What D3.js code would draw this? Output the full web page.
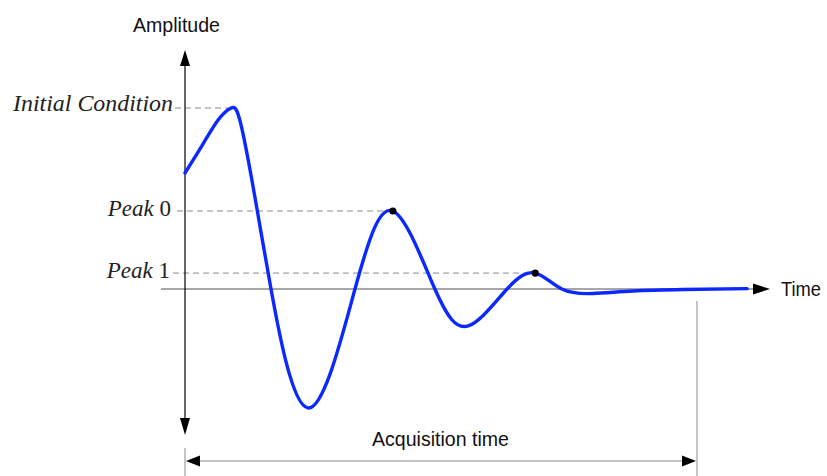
<!DOCTYPE html>
<html><head><meta charset="utf-8">
<script src="https://cdn.jsdelivr.net/npm/d3@7"></script>
<style>
html,body{margin:0;padding:0;background:#fff;}
svg{display:block;}
</style></head>
<body>
<svg id="c" width="827" height="476"></svg>
<script>
// ---- data (time as fraction of acquisition time, amplitude relative to initial condition) ----
const time = [0, 0.035, 0.065, 0.090, 0.110, 0.141, 0.168, 0.240, 0.332, 0.406, 0.488, 0.553, 0.629, 0.684, 0.736, 0.797, 0.875, 0.973, 1.098];
const amplitude = [0.641, 0.80, 0.935, 1.0, 0.90, 0.436, 0, -0.657, 0, 0.431, 0, -0.204, 0, 0.088, 0, -0.025, -0.011, -0.003, 0.002];
const peakTimes = [0.406, 0.684];
const peakValues = [0.431, 0.088];
const levelNames = ["Initial Condition", "Peak", "Peak"];
const levelSuffix = ["", " 0", " 1"];
const levelValues = [1.0, 0.431, 0.088];
const levelTimes = [0.090, 0.406, 0.684];
const axisLabels = ["Amplitude", "Time", "Acquisition time"];

const svg = d3.select("#c");
const x = d3.scaleLinear().domain([0, 1]).range([185, 697]);
const y = d3.scaleLinear().domain([0, 1]).range([289, 108]);
const x0 = x(0), y0 = y(0);

// level dashed lines
levelValues.forEach((v, i) => {
  svg.append("line")
    .attr("x1", i === 0 ? 175 : (i === 1 ? 177 : 173)).attr("x2", x(levelTimes[i]))
    .attr("y1", y(v)).attr("y2", y(v))
    .attr("stroke", "#8a8a8a").attr("stroke-width", 1).attr("stroke-dasharray", "6,4");
});

// level labels
const lbl = [[173, 111, 160], [171, 216, 64], [170, 278, 63]];
levelNames.forEach((n, i) => {
  const t = svg.append("text")
    .attr("x", lbl[i][0]).attr("y", lbl[i][1])
    .attr("text-anchor", "end")
    .attr("font-family", "Liberation Serif, Times New Roman, serif")
    .attr("font-size", 23).attr("fill", "#222");
  t.append("tspan").attr("font-style", "italic").text(n);
  if (levelSuffix[i]) t.append("tspan").text(levelSuffix[i]);
  if (i === 0) t.attr("textLength", lbl[i][2]).attr("lengthAdjust", "spacingAndGlyphs");
});

// time axis (gray) with black arrow
svg.append("line").attr("x1", 161).attr("x2", 756).attr("y1", y0).attr("y2", y0)
  .attr("stroke", "#8a8a8a").attr("stroke-width", 1.6);
svg.append("path").attr("d", `M770,${y0} L753,${y0-5.5} L753,${y0+5.5} Z`).attr("fill", "#000");

// amplitude axis (black) with arrows at both ends
svg.append("line").attr("x1", x0).attr("x2", x0).attr("y1", 62).attr("y2", 422)
  .attr("stroke", "#000").attr("stroke-width", 1.2);
svg.append("path").attr("d", `M${x0},50 L${x0-5},66 L${x0+5},66 Z`).attr("fill", "#000");
svg.append("path").attr("d", `M${x0},435 L${x0-5},418 L${x0+5},418 Z`).attr("fill", "#000");

// acquisition time markers
svg.append("line").attr("x1", x0).attr("x2", x0).attr("y1", 448).attr("y2", 476)
  .attr("stroke", "#8a8a8a").attr("stroke-width", 1);
svg.append("line").attr("x1", x(1)).attr("x2", x(1)).attr("y1", 301).attr("y2", 476)
  .attr("stroke", "#8a8a8a").attr("stroke-width", 1);
svg.append("line").attr("x1", x0 + 10).attr("x2", x(1) - 10).attr("y1", 461).attr("y2", 461)
  .attr("stroke", "#8a8a8a").attr("stroke-width", 1);
svg.append("path").attr("d", `M${x0+1},461 L${x0+15},455.5 L${x0+15},466.5 Z`).attr("fill", "#000");
svg.append("path").attr("d", `M${x(1)-1},461 L${x(1)-15},455.5 L${x(1)-15},466.5 Z`).attr("fill", "#000");

// curve
const pts = time.map((t, i) => [t, amplitude[i]]);
const line = d3.line().x(d => x(d[0])).y(d => y(d[1])).curve(d3.curveNatural);
svg.append("path").datum(pts).attr("d", line)
  .attr("fill", "none").attr("stroke", "#0a28ff").attr("stroke-width", 3.4)
  .attr("stroke-linecap", "round").attr("stroke-linejoin", "round");

// peak dots
peakTimes.forEach((t, i) => {
  svg.append("circle").attr("cx", x(t)).attr("cy", y(peakValues[i])).attr("r", 3.6).attr("fill", "#000");
});

// axis labels
const sans = "Liberation Sans, Arial, sans-serif";
svg.append("text").attr("x", 133).attr("y", 32).attr("font-family", sans).attr("font-size", 21)
  .attr("textLength", 87).attr("lengthAdjust", "spacingAndGlyphs").attr("fill", "#111").text(axisLabels[0]);
svg.append("text").attr("x", 781).attr("y", 296).attr("font-family", sans).attr("font-size", 21)
  .attr("textLength", 40).attr("lengthAdjust", "spacingAndGlyphs").attr("fill", "#111").text(axisLabels[1]);
svg.append("text").attr("x", 372).attr("y", 446).attr("font-family", sans).attr("font-size", 21)
  .attr("textLength", 137).attr("lengthAdjust", "spacingAndGlyphs").attr("fill", "#111").text(axisLabels[2]);
</script>
</body></html>
